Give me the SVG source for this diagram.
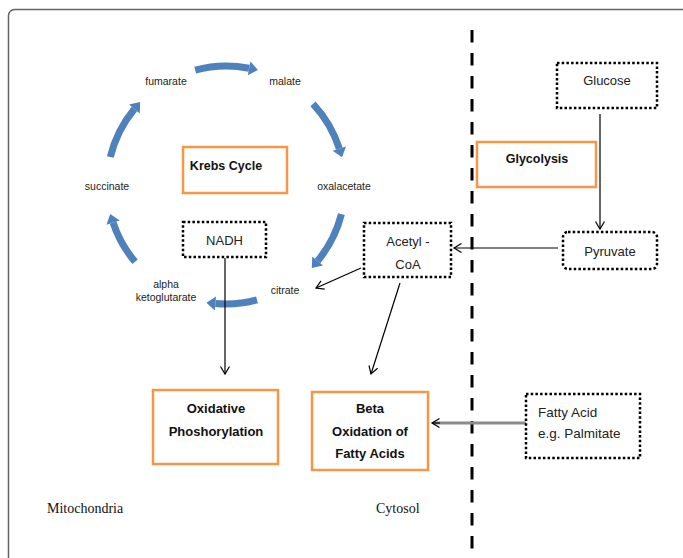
<svg xmlns="http://www.w3.org/2000/svg" width="683" height="558" viewBox="0 0 683 558">
<defs>
<style>
.frame{fill:none;stroke:#666;stroke-width:1.5}
.divider{fill:none;stroke:#000;stroke-width:3;stroke-dasharray:12.5 10.5}
.orange{fill:#fff;stroke:#F79646;stroke-width:2.5}
.dotted{fill:#fff;stroke:#000;stroke-width:2.5;stroke-dasharray:2.5 2.2}
.cyc{fill:none;stroke:#4F81BD;stroke-width:7}
.conn{fill:none;stroke:#000;stroke-width:1.2}
.grey{fill:none;stroke:#8c8c8c;stroke-width:3}
.lbl{font-family:"Liberation Sans",Arial,sans-serif;font-size:10.5px;fill:#222;text-anchor:middle}
.box{font-family:"Liberation Sans",Arial,sans-serif;font-size:13px;fill:#222;text-anchor:middle}
.bold{font-family:"Liberation Sans",Arial,sans-serif;font-size:12.5px;font-weight:bold;fill:#111;text-anchor:middle}
.bold2{font-family:"Liberation Sans",Arial,sans-serif;font-size:13px;font-weight:bold;fill:#111;text-anchor:middle}
.serif{font-family:"Liberation Serif","Times New Roman",serif;font-size:14px;fill:#111}
</style>
<marker id="blueHead" markerUnits="userSpaceOnUse" markerWidth="12" markerHeight="16" refX="0" refY="7" orient="auto" overflow="visible">
<path d="M0,0 L9,7 L0,14 z" fill="#4F81BD"/>
</marker>
<marker id="openHead" markerUnits="userSpaceOnUse" markerWidth="12" markerHeight="12" refX="8" refY="5" orient="auto" overflow="visible">
<path d="M0.5,0.5 L8,5 L0.5,9.5" fill="none" stroke="#000" stroke-width="1.2"/>
</marker>
</defs>
<rect width="683" height="558" fill="#fff"/>
<rect class="frame" x="8.5" y="9.5" width="720" height="600" rx="6"/>
<line class="divider" x1="472" y1="30" x2="472" y2="558"/>

<g id="cycle-arrows">
<path class="cyc" d="M195.2,70.1 A119,119 0 0 1 249.1,68.3" marker-end="url(#blueHead)"/>
<path class="cyc" d="M313.0,103.8 A119,119 0 0 1 339.3,148.6" marker-end="url(#blueHead)"/>
<path class="cyc" d="M341.4,214.2 A119,119 0 0 1 317.6,261.0" marker-end="url(#blueHead)"/>
<path class="cyc" d="M257.0,299.9 A119,119 0 0 1 215.4,303.5" marker-end="url(#blueHead)"/>
<path class="cyc" d="M135.1,261.8 A119,119 0 0 1 113.1,222.6" marker-end="url(#blueHead)"/>
<path class="cyc" d="M110.3,157.0 A119,119 0 0 1 134.4,109.0" marker-end="url(#blueHead)"/>
</g>

<g id="cycle-labels">
<text class="lbl" x="166" y="84.5">fumarate</text>
<text class="lbl" x="285" y="84.5">malate</text>
<text class="lbl" x="344" y="189.5">oxalacetate</text>
<text class="lbl" x="107" y="189.5">succinate</text>
<text class="lbl" x="285" y="293.5">citrate</text>
<text class="lbl" x="166" y="287.5">alpha</text>
<text class="lbl" x="166" y="300.5">ketoglutarate</text>
</g>

<g id="connectors">
<line class="conn" x1="600" y1="114" x2="600" y2="229" marker-end="url(#openHead)"/>
<line class="conn" x1="558" y1="248" x2="454" y2="248" marker-end="url(#openHead)"/>
<line class="conn" x1="361" y1="268" x2="316" y2="288" marker-end="url(#openHead)"/>
<line class="conn" x1="400" y1="283" x2="371" y2="374" marker-end="url(#openHead)"/>
<line class="conn" x1="225" y1="258" x2="225" y2="374" marker-end="url(#openHead)"/>
<line class="grey" x1="526" y1="423" x2="433" y2="423"/>
<line class="conn" x1="440" y1="423" x2="432" y2="423" marker-end="url(#openHead)"/>
</g>

<g id="krebs">
<rect class="orange" x="183" y="147" width="104" height="46"/>
<text class="bold" x="226" y="169.5">Krebs Cycle</text>
</g>
<g id="nadh">
<rect class="dotted" x="183" y="222" width="83" height="35"/>
<text class="box" x="224.5" y="244.5">NADH</text>
</g>
<g id="glycolysis">
<rect class="orange" x="477" y="142" width="119" height="45"/>
<text class="bold" x="537" y="162.5">Glycolysis</text>
</g>
<g id="glucose">
<rect class="dotted" x="557" y="63" width="100" height="45"/>
<text class="box" x="607" y="84.5">Glucose</text>
</g>
<g id="pyruvate">
<rect class="dotted" x="563" y="232" width="94" height="37" rx="5"/>
<text class="box" x="610" y="255.5">Pyruvate</text>
</g>
<g id="acetyl-coa">
<rect class="dotted" x="364" y="223" width="87" height="54"/>
<text class="box" x="408" y="246">Acetyl -</text>
<text class="box" x="408" y="268.5">CoA</text>
</g>
<g id="oxidative">
<rect class="orange" x="153" y="390" width="125" height="74"/>
<text class="bold2" x="216" y="412.5">Oxidative</text>
<text class="bold2" x="216" y="435.5">Phoshorylation</text>
</g>
<g id="beta-oxidation">
<rect class="orange" x="312" y="392" width="116" height="78"/>
<text class="bold2" x="370" y="412.5">Beta</text>
<text class="bold2" x="370" y="435.5">Oxidation of</text>
<text class="bold2" x="370" y="457.5">Fatty Acids</text>
</g>
<g id="fatty-acid">
<rect class="dotted" x="526" y="394" width="114" height="64"/>
<text class="box" x="538" y="416.5" style="text-anchor:start;font-size:13.5px">Fatty Acid</text>
<text class="box" x="538" y="437.5" style="text-anchor:start;font-size:13.5px">e.g. Palmitate</text>
</g>

<g id="region-labels">
<text class="serif" x="47" y="512.5">Mitochondria</text>
<text class="serif" x="376" y="512.5">Cytosol</text>
</g>
</svg>
